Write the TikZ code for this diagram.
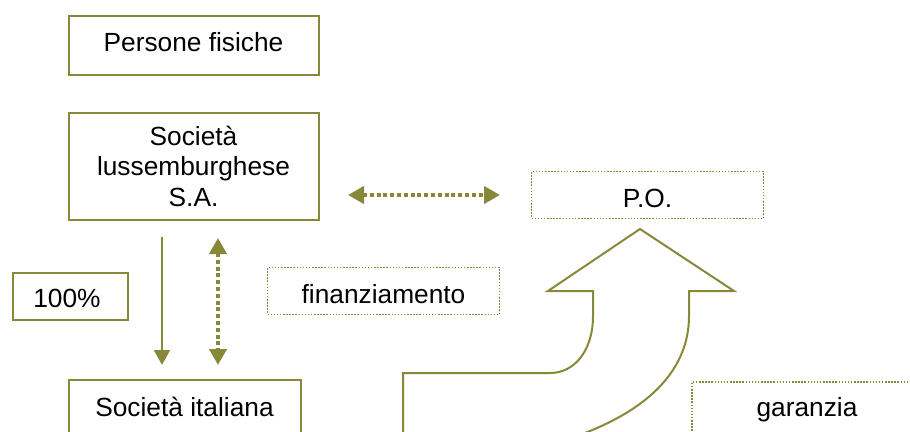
\documentclass[tikz,border=0pt]{standalone}
\usepackage{fontspec}
\setmainfont{Liberation Sans}
\usetikzlibrary{arrows.meta}
\definecolor{olv}{RGB}{136,136,58}
\begin{document}
\begin{tikzpicture}[x=1pt,y=-1pt,
  txtfont/.style={font=\fontsize{26.3}{30.5}\selectfont},
  solidbox/.style={draw=olv, line width=2pt, inner sep=0pt, text depth=0pt, txtfont},
  dotbox/.style={draw=olv, line width=1.5pt, dash pattern=on 1.5pt off 1.6pt, inner sep=0pt, text depth=0pt, txtfont},
  dotarrow/.style={draw=olv, line width=4pt, dash pattern=on 4pt off 2.8pt,
    {Triangle[length=16pt,width=17pt]}-{Triangle[length=16pt,width=17pt]}},
  solidarrow/.style={draw=olv, line width=1.8pt, -{Triangle[length=15pt,width=16pt]}},
  bigarrow/.style={draw=olv, line width=2pt, line join=miter}
]
\useasboundingbox (0,0) rectangle (910,431);
\begin{scope}
\clip (0,0) rectangle (910,431);
\node[solidbox, minimum width=250pt, minimum height=59pt, text height=11pt] (pf) at (193.5,45.5) {Persone fisiche};
\node[solidbox, minimum width=250pt, minimum height=107pt, align=center] (lux) at (193.5,166) {Società\\lussemburghese\\S.A.};
\node[solidbox, minimum width=115pt, minimum height=47pt, text height=22.6pt] (pct) at (70,296) {100\%\hspace*{6pt}};
\node[dotbox, minimum width=232pt, minimum height=47pt, text height=24.6pt] (fin) at (383.5,291) {finanziamento};
\node[dotbox, minimum width=232pt, minimum height=47pt, text height=24.6pt] (po) at (647.5,195) {P.O.};
\node[solidbox, minimum width=232pt, minimum height=60pt, text height=12pt] (ita) at (184.5,410) {Società italiana};
\node[dotbox, minimum width=230pt, minimum height=60pt, text height=9.4pt] (gar) at (807,412) {garanzia};
% big bent arrow
\draw[bigarrow] (403,460) -- (403,373) -- (550,373)
  .. controls (575,373) and (593,350) .. (593,316)
  -- (593,291) -- (548,291) -- (640,229) -- (734,291) -- (689,291) -- (689,316)
  .. controls (689,372) and (645,422) .. (530,450) -- (500,460);
\end{scope}
% connectors
\coordinate (s1) at (162,237); \coordinate (s2) at (162,365);
\draw[solidarrow] (s1) -- (s2);
\coordinate (d1) at (218,238); \coordinate (d2) at (218,365);
\draw[dotarrow] (d1) -- (d2);
\coordinate (h1) at (348,195); \coordinate (h2) at (500,195);
\draw[dotarrow] (h1) -- (h2);
\end{tikzpicture}
\end{document}
